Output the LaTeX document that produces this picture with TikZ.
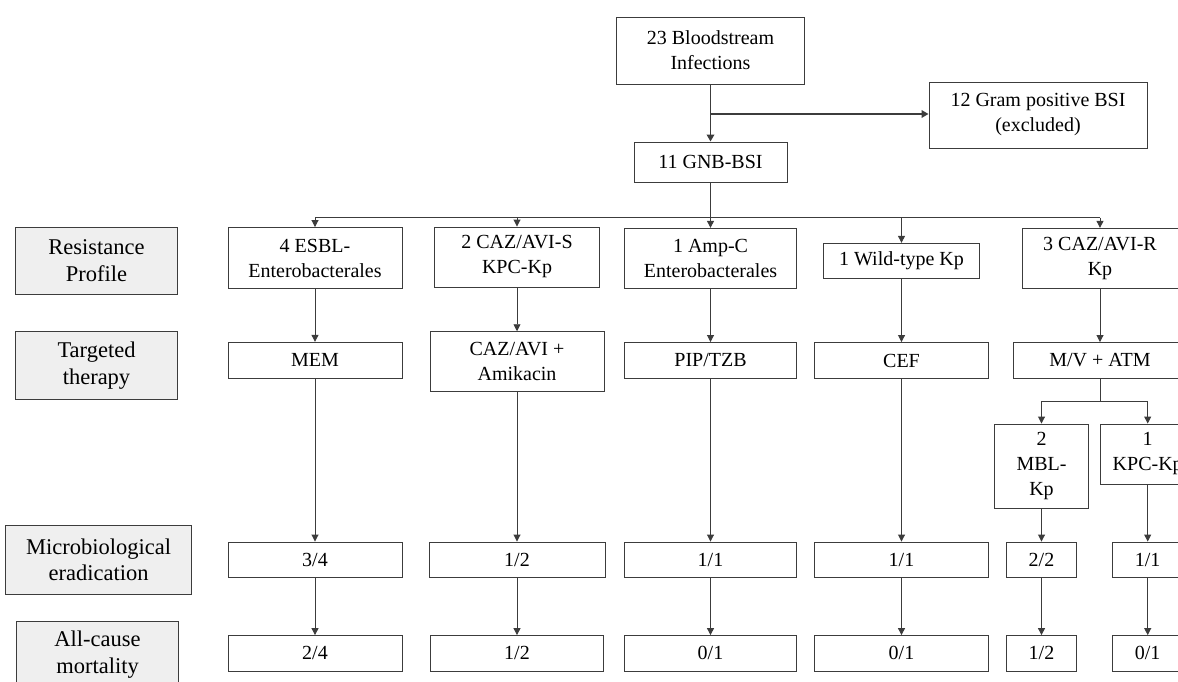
\documentclass[tikz,border=0pt]{standalone}
\usepackage{fontspec}
\setmainfont{Liberation Serif}
\usetikzlibrary{arrows.meta}
\definecolor{ln}{HTML}{3C3C3C}
\definecolor{lbl}{HTML}{EFEFEF}
\begin{document}
\begin{tikzpicture}[x=1pt,y=-1pt,
  box/.style={draw=ln, line width=0.9pt, fill=white, inner sep=0pt, align=center, font=\fontsize{20}{25}\selectfont},
  lab/.style={box, fill=lbl, font=\fontsize{22.5}{26.5}\selectfont},
  conn/.style={draw=ln, line width=0.9pt},
  arr/.style={conn, -{Triangle[length=7pt,width=7pt]}},
  arrT/.style={draw=ln, line width=1.8pt, -{Triangle[length=7pt,width=7.5pt]}}
]
\useasboundingbox (0,0) rectangle (1178,682);
\clip (0,0) rectangle (1178,682);

% top
\node[box, minimum width=188, minimum height=67] (bsi) at (710.5,50.5) {23 Bloodstream\\Infections};
\node[box, minimum width=218, minimum height=66] (gp) at (1038,115) {12 Gram positive BSI\\(excluded)};
\node[box, minimum width=153, minimum height=40] (gnb) at (710.5,162) {11 GNB-BSI};
\coordinate (sp0) at (710.5,114);
\draw[arrT] (bsi) -- (gnb);
\draw[arrT] (sp0) -- (sp0 -| gp.west);

% bus
\coordinate (b1) at (315,217.5);
\coordinate (b2) at (517,217.5);
\coordinate (b3) at (710.5,217.5);
\coordinate (b4) at (901.5,217.5);
\coordinate (b5) at (1100,217.5);
\draw[conn] (gnb) -- (b3);
\draw[conn] (b1) -- (b5);

% labels
\node[lab, minimum width=161.6, minimum height=66.7] (L1) at (96.5,260.7) {Resistance\\Profile};
\node[lab, minimum width=161.6, minimum height=67.6] (L2) at (96.5,365.5) {Targeted\\therapy};
\node[lab, minimum width=186, minimum height=68.3] (L3) at (98.7,559.8) {Microbiological\\eradication};
\node[lab, minimum width=161.6, minimum height=67] (L4) at (97.5,654.5) {All-cause\\mortality};

% resistance row
\node[box, minimum width=174, minimum height=61] (r1) at (315,258) {4 ESBL-\\Enterobacterales};
\node[box, minimum width=165, minimum height=60] (r2) at (517,257) {2 CAZ/AVI-S\\KPC-Kp};
\node[box, minimum width=172, minimum height=60] (r3) at (710.5,258.3) {1 Amp-C\\Enterobacterales};
\node[box, minimum width=156, minimum height=35] (r4) at (901.5,260.8) {1 Wild-type Kp};
\node[box, minimum width=156, minimum height=60] (r5) at (1100,258.3) {3 CAZ/AVI-R\\Kp};

% therapy row
\node[box, minimum width=174, minimum height=36] (t1) at (315,360.3) {MEM};
\node[box, minimum width=174, minimum height=60] (t2) at (517,361.7) {CAZ/AVI +\\Amikacin};
\node[box, minimum width=172, minimum height=36] (t3) at (710.5,360.5) {PIP/TZB};
\node[box, minimum width=174, minimum height=36] (t4) at (901.5,360.5) {CEF};
\node[box, minimum width=173, minimum height=36] (t5) at (1100,360.5) {M/V + ATM};

% sub branch
\coordinate (sp5) at (1100,401.7);
\node[box, minimum width=94, minimum height=84] (mbl) at (1041.5,466) {2\\MBL-\\Kp};
\node[box, minimum width=94, minimum height=60] (kpc) at (1147.7,454) {1\\KPC-Kp};

% micro row
\node[box, minimum width=174, minimum height=35] (m1) at (315,559.5) {3/4};
\node[box, minimum width=176, minimum height=35] (m2) at (517,559.5) {1/2};
\node[box, minimum width=172, minimum height=35] (m3) at (710.5,559.5) {1/1};
\node[box, minimum width=174, minimum height=35] (m4) at (901.5,559.5) {1/1};
\node[box, minimum width=70, minimum height=35] (m5a) at (1041.5,559.5) {2/2};
\node[box, minimum width=71, minimum height=35] (m5b) at (1147.7,559.5) {1/1};

% mortality row
\node[box, minimum width=174, minimum height=35.5] (d1) at (315,653.3) {2/4};
\node[box, minimum width=173, minimum height=35.5] (d2) at (517,653.3) {1/2};
\node[box, minimum width=172, minimum height=35.5] (d3) at (710.5,653.3) {0/1};
\node[box, minimum width=174, minimum height=35.5] (d4) at (901.5,653.3) {0/1};
\node[box, minimum width=70, minimum height=35.5] (d5a) at (1041.5,653.3) {1/2};
\node[box, minimum width=71, minimum height=35.5] (d5b) at (1147.7,653.3) {0/1};

% connectors
\foreach \i in {1,...,5}{
  \draw[arr] (b\i) -- (r\i);
  \draw[arr] (r\i) -- (t\i);
}
\foreach \i in {1,...,4}{
  \draw[arr] (t\i) -- (m\i);
  \draw[arr] (m\i) -- (d\i);
}
\draw[conn] (t5) -- (sp5);
\draw[arr] (sp5) -| (mbl);
\draw[arr] (sp5) -| (kpc);
\draw[arr] (mbl) -- (m5a);
\draw[arr] (kpc) -- (m5b);
\draw[arr] (m5a) -- (d5a);
\draw[arr] (m5b) -- (d5b);
\end{tikzpicture}
\end{document}
